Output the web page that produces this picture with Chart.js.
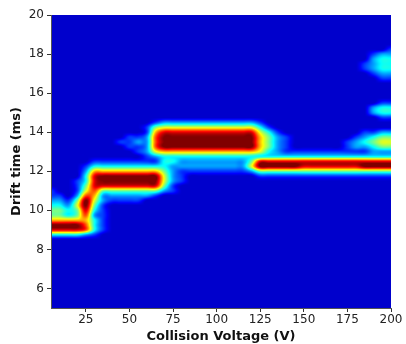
<!DOCTYPE html>
<html>
<head>
<meta charset="utf-8">
<script src="https://cdn.jsdelivr.net/npm/chart.js@4/dist/chart.umd.min.js"></script>
<style>
	body { margin: 0; background: #fff; }
	canvas { display: block; }
</style>
</head>
<body>
<canvas id="myChart" width="406" height="344"></canvas>
<script>
// collision voltage columns (V)
const voltages = [5, 10, 15, 20, 25, 30, 35, 40, 45, 50, 55, 60, 65, 70, 75, 80, 85, 90, 95, 100,
	105, 110, 115, 120, 125, 130, 135, 140, 145, 150, 155, 160, 165, 170, 175, 180, 185, 190, 195, 200];
// drift time rows (ms), outside this band the intensity is zero
const driftTimes = [8.5, 8.75, 9, 9.25, 9.5, 9.75, 10, 10.25, 10.5, 10.75, 11, 11.25, 11.5, 11.75,
	12, 12.25, 12.5, 12.75, 13, 13.25, 13.5, 13.75, 14, 14.25, 14.5, 14.75, 15, 15.25, 15.5, 15.75,
	16, 16.25, 16.5, 16.75, 17, 17.25, 17.5, 17.75, 18, 18.25, 18.5];
// relative intensity 0-9, one row per drift time, one digit per voltage (spaces only for reading)
const intensity = [
	'00000 00000 00000 00000 00000 00000 00000 00000', // 8.5
	'33332 10000 00000 00000 00000 00000 00000 00000',
	'88887 31000 00000 00000 00000 00000 00000 00000', // 9
	'99997 31000 00000 00000 00000 00000 00000 00000',
	'66666 31000 00000 00000 00000 00000 00000 00000',
	'44347 21000 00000 00000 00000 00000 00000 00000',
	'44348 31000 00000 00000 00000 00000 00000 00000', // 10
	'33259 41000 00000 00000 00000 00000 00000 00000',
	'22149 52111 10000 00000 00000 00000 00000 00000',
	'11027 62222 22100 00000 00000 00000 00000 00000',
	'10015 74444 44421 00000 00000 00000 00000 00000', // 11
	'00014 88888 88841 00000 00000 00000 00000 00000',
	'00013 89999 99952 10000 00000 00000 00000 00000',
	'00003 89999 99952 10000 00001 11111 11111 11111',
	'00002 66666 66642 11111 11124 44444 44444 44444', // 12
	'00001 33333 33332 22222 22259 99998 88888 89999',
	'00000 11111 11133 22222 22248 88888 88888 88888',
	'00000 00000 01233 33333 33333 33333 33333 33333',
	'00000 00000 12566 66666 66665 32111 11111 11222', // 13
	'00000 00001 12799 99999 99996 42100 00001 22344',
	'00000 00011 22799 99999 99996 42100 00001 23455',
	'00000 00001 12799 99999 99996 42100 00000 12344',
	'00000 00000 01688 88888 88885 31000 00000 01122', // 14
	'00000 00000 01455 55555 55553 10000 00000 00000',
	'00000 00000 00122 22222 22221 00000 00000 00000',
	'00000 00000 00000 00000 00000 00000 00000 00011',
	'00000 00000 00000 00000 00000 00000 00000 00233', // 15
	'00000 00000 00000 00000 00000 00000 00000 00233',
	'00000 00000 00000 00000 00000 00000 00000 00011',
	'00000 00000 00000 00000 00000 00000 00000 00000',
	'00000 00000 00000 00000 00000 00000 00000 00000', // 16
	'00000 00000 00000 00000 00000 00000 00000 00000',
	'00000 00000 00000 00000 00000 00000 00000 00000',
	'00000 00000 00000 00000 00000 00000 00000 00011',
	'00000 00000 00000 00000 00000 00000 00000 00122', // 17
	'00000 00000 00000 00000 00000 00000 00000 01233',
	'00000 00000 00000 00000 00000 00000 00000 01233',
	'00000 00000 00000 00000 00000 00000 00000 00233',
	'00000 00000 00000 00000 00000 00000 00000 00122', // 18
	'00000 00000 00000 00000 00000 00000 00000 00001',
	'00000 00000 00000 00000 00000 00000 00000 00000'
];
const xTicks = [25, 50, 75, 100, 125, 150, 175, 200];
const yTicks = [6, 8, 10, 12, 14, 16, 18, 20];

// matrix of numbers from the digit rows
const grid = intensity.map(r => r.replace(/ /g, '').split('').map(Number));

// fractional index of value inside a sorted array of centres
function findIndex(arr, val) {
	if (val <= arr[0]) return 0;
	if (val >= arr[arr.length - 1]) return arr.length - 1;
	for (let i = 0; i < arr.length - 1; i++) {
		if (val <= arr[i + 1]) return i + (val - arr[i]) / (arr[i + 1] - arr[i]);
	}
	return arr.length - 1;
}

function cell(j, i) {
	if (j < 0 || j >= grid.length) return 0;
	i = Math.max(0, Math.min(grid[0].length - 1, i));
	return grid[j][i];
}

// catmull-rom weights, like a bicubic imshow
function cubic(p0, p1, p2, p3, t) {
	return p1 + 0.5 * t * (p2 - p0 + t * (2 * p0 - 5 * p1 + 4 * p2 - p3 + t * (3 * (p1 - p2) + p3 - p0)));
}

function sample(v, t) {
	if (t < driftTimes[0] || t > driftTimes[driftTimes.length - 1]) return 0;
	const fi = findIndex(voltages, v), fj = findIndex(driftTimes, t);
	const i0 = Math.floor(fi), j0 = Math.floor(fj);
	const a = fi - i0, b = fj - j0;
	const col = [];
	for (let dj = -1; dj <= 2; dj++) {
		const j = j0 + dj;
		col.push(cubic(cell(j, i0 - 1), cell(j, i0), cell(j, i0 + 1), cell(j, i0 + 2), a));
	}
	return Math.max(0, Math.min(9, cubic(col[0], col[1], col[2], col[3], b)));
}

function clamp(x) { return Math.max(0, Math.min(1, x)); }
function jet(x) {
	return [
		clamp(Math.min(4 * x - 1.5, -4 * x + 4.5)),
		clamp(Math.min(4 * x - 0.5, -4 * x + 3.5)),
		clamp(Math.min(4 * x + 0.5, -4 * x + 2.5))
	];
}

// paint the heat map under the axes, pixel by pixel through the chart scales
const heatmap = {
	id: 'heatmap',
	beforeDraw(chart) {
		const ca = chart.chartArea;
		const xs = chart.scales.x, ys = chart.scales.y;
		const left = Math.round(ca.left), top = Math.round(ca.top);
		const w = Math.round(ca.right) - left, h = Math.round(ca.bottom) - top;
		const img = chart.ctx.createImageData(w, h);
		const vCol = [], tRow = [];
		for (let i = 0; i < w; i++) vCol.push(xs.getValueForPixel(left + i + 0.5));
		for (let j = 0; j < h; j++) tRow.push(ys.getValueForPixel(top + j + 0.5));
		for (let j = 0; j < h; j++) {
			for (let i = 0; i < w; i++) {
				const d = sample(vCol[i], tRow[j]) / 9;
				const c = jet(0.075 + 0.925 * d);
				const k = (j * w + i) * 4;
				img.data[k] = c[0] * 255;
				img.data[k + 1] = c[1] * 255;
				img.data[k + 2] = c[2] * 255;
				img.data[k + 3] = 255;
			}
		}
		chart.ctx.putImageData(img, left, top);
	}
};

const tickFont = { family: 'DejaVu Sans', size: 12 };
const titleFont = { family: 'DejaVu Sans', size: 13, weight: 'bold' };

var ctx = document.getElementById('myChart');
var myChart = new Chart(ctx, {
	type: 'scatter',
	data: {
		datasets: [{
			label: 'Intensity',
			data: [],
			pointRadius: 0
		}]
	},
	options: {
		responsive: false,
		animation: false,
		layout: { padding: { top: 15, right: 15, left: 0, bottom: 0 } },
		plugins: {
			legend: { display: false },
			tooltip: { enabled: false }
		},
		scales: {
			x: {
				type: 'linear',
				min: 5,
				max: 200,
				afterBuildTicks: s => { s.ticks = xTicks.map(v => ({ value: v })); },
				afterFit: s => { s.height = 36; },
				grid: { drawOnChartArea: false, drawTicks: true, tickLength: 4, color: '#333' },
				border: { display: true, color: '#555', width: 1 },
				ticks: { font: tickFont, color: '#222', padding: 1, maxRotation: 0 },
				title: { display: true, text: 'Collision Voltage (V)', font: titleFont, color: '#111', padding: 0 }
			},
			y: {
				type: 'linear',
				min: 5,
				max: 20,
				afterBuildTicks: s => { s.ticks = yTicks.map(v => ({ value: v })); },
				afterFit: s => { s.width = 51; },
				grid: { drawOnChartArea: false, drawTicks: true, tickLength: 4, color: '#333' },
				border: { display: true, color: '#555', width: 1 },
				ticks: { font: tickFont, color: '#222', padding: 3 },
				title: { display: true, text: 'Drift time (ms)', font: titleFont, color: '#111', padding: { top: 9, bottom: 0 } }
			}
		}
	},
	plugins: [heatmap]
});
</script>
</body>
</html>
